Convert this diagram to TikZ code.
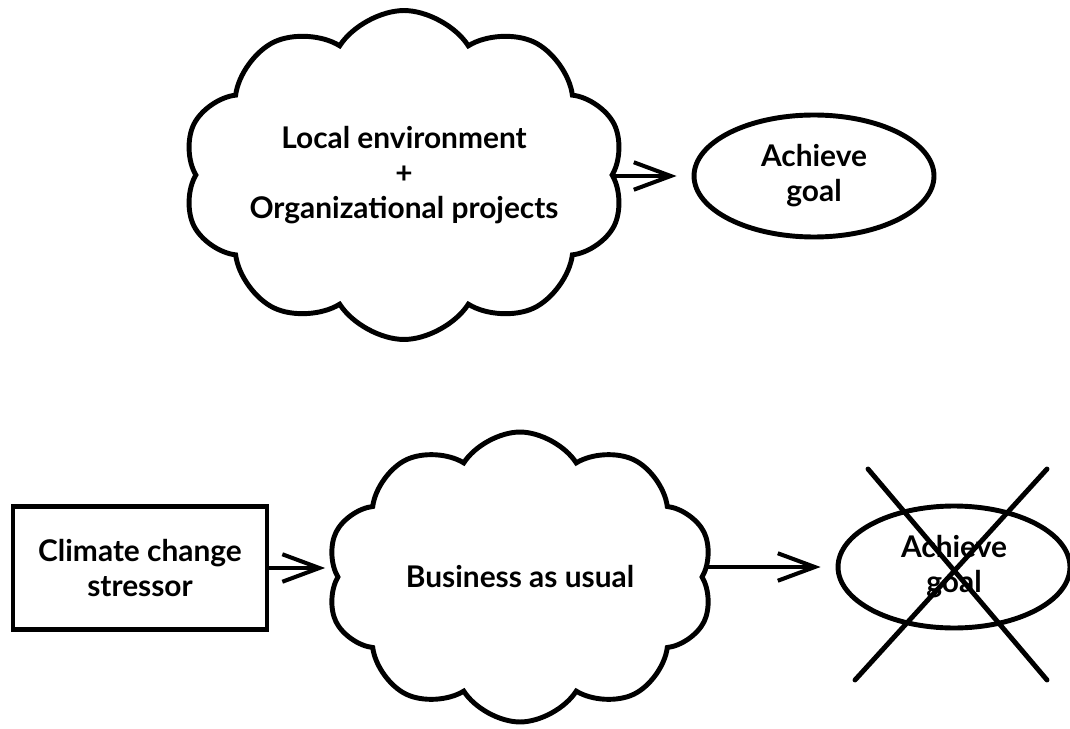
\documentclass[tikz,border=0pt]{standalone}
\usepackage{fontspec}
\setmainfont{Lato}
\usepackage{tikz}
\usetikzlibrary{arrows.meta}
\usetikzlibrary{shapes.symbols}
\usetikzlibrary{shapes.geometric}
\usetikzlibrary{positioning}

\begin{document}
\begin{tikzpicture}[x=0.02cm,y=-0.02cm,
    line width=2.8pt,
    every node/.style={font=\fontsize{17}{20}\selectfont\bfseries,align=center},
    cloud node/.style={cloud,draw,cloud puffs=10,cloud puff arc=115,cloud ignores aspect,inner sep=0pt},
    goal node/.style={ellipse,draw,minimum width=4.8cm,minimum height=2.44cm,inner sep=0pt},
    box node/.style={rectangle,draw,minimum width=5.08cm,minimum height=2.46cm,inner sep=0pt},
    arr/.style={-{Straight Barb[length=0.74cm,width=0.55cm,line width=2.3pt]},line width=2.3pt,shorten >=0.3cm}]

    \useasboundingbox (0,0) rectangle (1070,729);

    % top row
    \node[cloud node,minimum width=8.84cm,minimum height=6.58cm] (env) at (404,175) {Local environment\\+\\Organizational projects};
    \node[goal node] (goal) at (814,176) {Achieve\\goal};
    \draw[arr] (env.east |- goal.west) -- (goal.west);

    % bottom row
    \node[box node] (stressor) at (140,568) {Climate change\\stressor};
    \node[cloud node,minimum width=7.74cm,minimum height=5.8cm] (usual) at (520,577) {Business as usual};
    \node[goal node,minimum width=4.64cm] (failed) at (954,567) {Achieve\\goal};
    \draw[arr,shorten >=0.2cm] (stressor.east) -- (stressor.east -| usual.west);
    \draw[arr] (usual.east |- failed.west) -- (failed.west);

    % cross over the failed goal
    \coordinate (x1) at (868,469);
    \coordinate (x2) at (1047,680);
    \coordinate (x3) at (1047,469);
    \coordinate (x4) at (855,680);
    \draw[line cap=round] (x1) -- (x2) (x3) -- (x4);

\end{tikzpicture}
\end{document}
